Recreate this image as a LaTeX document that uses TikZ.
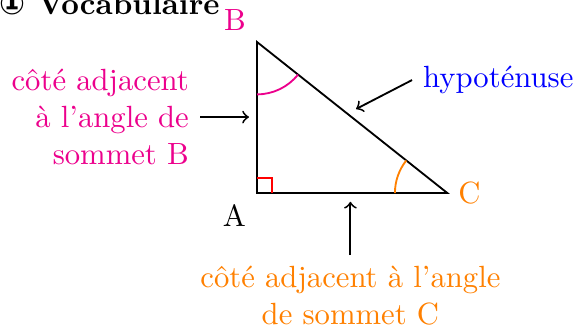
\documentclass[tikz,border=0pt]{standalone}
\usepackage{fontspec}
\usetikzlibrary{angles}
\newfontfamily\symbolfont{DejaVu Sans}
\definecolor{rose}{RGB}{236,0,140}
\definecolor{orangeC}{RGB}{255,128,0}

\begin{document}
\begin{tikzpicture}[semithick, pointer/.style={->,semithick}]
    \useasboundingbox (-2.944,-1.535) rectangle (3.677,2.211);
    \node[anchor=base west, inner sep=0pt, font=\bfseries] (title) at (-2.955,2.04) {{\symbolfont ①} Vocabulaire};
    \coordinate (A) at (0,0);
    \coordinate (B) at (0,1.73);
    \coordinate (C) at (2.18,0);
    \draw (A) -- (B) -- (C) -- cycle;
    \pic[draw=red, angle radius=0.17cm] {right angle = C--A--B};
    \pic[draw=rose, angle radius=0.6cm] {angle = A--B--C};
    \pic[draw=orangeC, angle radius=0.6cm] {angle = B--C--A};
    \node[below left] (labA) at (A) {A};
    \node[above left, rose] (labB) at (B) {B};
    \node[right, orangeC] (labC) at (C) {C};
    \node[rose, align=right, anchor=east] (adjB) at (-0.653,0.87) {côté adjacent\\à l'angle de\\sommet B};
    \coordinate (tipB) at (-0.092,0.87);
    \draw[pointer] (adjB) -- (tipB);
    \node[blue, anchor=west] (hyp) at (1.776,1.294) {hypoténuse};
    \coordinate (tipH) at (1.134,0.962);
    \draw[pointer] (hyp.west) -- (tipH);
    \node[orangeC, align=center, anchor=north] (adjC) at (1.07,-0.71) {côté adjacent à l'angle\\de sommet C};
    \coordinate (tipC) at (1.07,-0.10);
    \draw[pointer] (adjC) -- (tipC);
\end{tikzpicture}
\end{document}
